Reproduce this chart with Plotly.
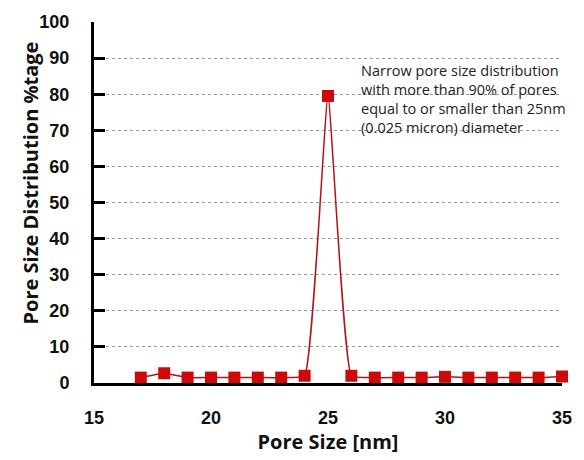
import plotly.graph_objects as go

pore_size = [17, 18, 19, 20, 21, 22, 23, 24, 25, 26, 27, 28, 29, 30, 31, 32, 33, 34, 35]
distribution = [1.5, 2.7, 1.5, 1.5, 1.5, 1.5, 1.5, 2.0, 79.5, 2.0, 1.5, 1.5, 1.5, 1.7, 1.5, 1.5, 1.5, 1.5, 1.8]
y_ticks = [0, 10, 20, 30, 40, 50, 60, 70, 80, 90, 100]
x_ticks = [15, 20, 25, 30, 35]
note = ("Narrow pore size distribution<br>with more than 90% of pores<br>"
        "equal to or smaller than 25nm<br>(0.025 micron) diameter")

fig = go.Figure()
fig.add_trace(go.Scatter(
    x=pore_size, y=distribution, mode="lines+markers",
    line=dict(color="#b5121b", width=1.5, shape="spline", smoothing=0.35),
    marker=dict(symbol="square", size=12, color="#cc0a0a"),
    cliponaxis=False, showlegend=False,
))

fig.add_annotation(
    x=0.567, y=0.897, xref="paper", yref="paper", xanchor="left", yanchor="top",
    text=note, showarrow=False, align="left",
    font=dict(family="Open Sans", size=14.5, color="#222"),
)
fig.add_annotation(
    x=-0.135, y=0.555, xref="paper", yref="paper", xanchor="center", yanchor="middle",
    text="Pore Size Distribution %tage", showarrow=False, textangle=-90,
    font=dict(family="Open Sans", size=20, color="#111", weight="bold"),
)

tick_font = dict(family="Liberation Sans", size=18, color="#111", weight="bold")
fig.update_layout(
    width=584, height=460,
    margin=dict(l=94, r=19, t=20, b=74),
    paper_bgcolor="white", plot_bgcolor="white",
)
fig.update_xaxes(
    range=[15, 35], tickvals=x_ticks, showgrid=False,
    showline=True, linecolor="black", linewidth=3, ticks="",
    tickfont=tick_font, ticklabelstandoff=16,
    title=dict(text="Pore Size [nm]", font=dict(family="Open Sans", size=20, color="#111", weight="bold"), standoff=6),
    zeroline=False,
)
fig.update_yaxes(
    range=[0, 100], tickvals=y_ticks, showgrid=True,
    gridcolor="#9a9a9a", griddash="dot", gridwidth=1,
    showline=True, linecolor="black", linewidth=3,
    ticks="inside", ticklen=11, tickwidth=3, tickcolor="black",
    tickfont=tick_font, ticklabelstandoff=18,
    zeroline=False,
)

fig.write_html("out.html")
